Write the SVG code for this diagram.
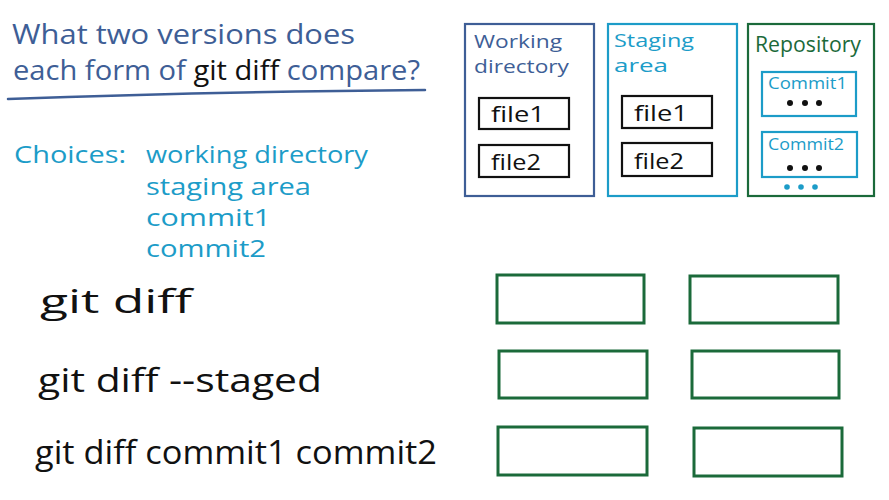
<svg xmlns="http://www.w3.org/2000/svg" width="889" height="500" viewBox="0 0 889 500">
<style>
text{font-family:"Open Sans","Liberation Sans",sans-serif;}
.slate{fill:#3e5e96;}
.teal{fill:#1c9cc8;}
.green{fill:#1b6a3a;}
.blk{fill:#111;}
.box{fill:none;stroke-width:2.2;}
.ans{fill:none;stroke:#1b6a3a;stroke-width:3;}
.dot{fill:#111;}
.tdot{fill:#1c9cc8;}
</style>
<rect width="889" height="500" fill="#fff"/>
<g id="title">
<text x="12" y="44" font-size="27" class="slate" textLength="343" lengthAdjust="spacingAndGlyphs">What two versions does</text>
<text x="13" y="80" font-size="27" class="slate" textLength="407" lengthAdjust="spacingAndGlyphs">each form of <tspan class="blk">git diff</tspan> compare?</text>
<path d="M8 99 Q200 92 425 90" fill="none" stroke="#3e5e96" stroke-width="2.5" stroke-linecap="round"/>
</g>
<g id="choices">
<text x="14" y="163" font-size="24" class="teal" textLength="112" lengthAdjust="spacingAndGlyphs">Choices:</text>
<text x="146" y="163" font-size="24" class="teal" textLength="222" lengthAdjust="spacingAndGlyphs">working directory</text>
<text x="146" y="195" font-size="24" class="teal" textLength="165" lengthAdjust="spacingAndGlyphs">staging area</text>
<text x="146" y="226" font-size="24" class="teal" textLength="125" lengthAdjust="spacingAndGlyphs">commit1</text>
<text x="146" y="257" font-size="24" class="teal" textLength="120" lengthAdjust="spacingAndGlyphs">commit2</text>
</g>
<g id="working-directory">
<rect x="465" y="24" width="129" height="172" class="box" stroke="#3e5e96"/>
<text x="474" y="48" font-size="19" class="slate" textLength="88" lengthAdjust="spacingAndGlyphs">Working</text>
<text x="474" y="73" font-size="19" class="slate" textLength="95" lengthAdjust="spacingAndGlyphs">directory</text>
<g id="wd-file1"><rect x="479" y="98" width="90" height="31" class="box" stroke="#111"/><text x="491" y="122" font-size="22" class="blk" textLength="54" lengthAdjust="spacingAndGlyphs">file1</text></g>
<g id="wd-file2"><rect x="479" y="145" width="90" height="32" class="box" stroke="#111"/><text x="491" y="170" font-size="22" class="blk" textLength="50" lengthAdjust="spacingAndGlyphs">file2</text></g>
</g>
<g id="staging-area">
<rect x="608" y="24" width="129" height="172" class="box" stroke="#1c9cc8"/>
<text x="614" y="47" font-size="19" class="teal" textLength="80" lengthAdjust="spacingAndGlyphs">Staging</text>
<text x="614" y="72" font-size="19" class="teal" textLength="54" lengthAdjust="spacingAndGlyphs">area</text>
<g id="sa-file1"><rect x="622" y="96" width="90" height="32" class="box" stroke="#111"/><text x="634" y="121" font-size="22" class="blk" textLength="54" lengthAdjust="spacingAndGlyphs">file1</text></g>
<g id="sa-file2"><rect x="622" y="143" width="90" height="33" class="box" stroke="#111"/><text x="634" y="169" font-size="22" class="blk" textLength="50" lengthAdjust="spacingAndGlyphs">file2</text></g>
</g>
<g id="repository">
<rect x="748" y="24" width="126" height="172" class="box" stroke="#1b6a3a"/>
<text x="755" y="52" font-size="21" class="green" textLength="106" lengthAdjust="spacingAndGlyphs">Repository</text>
<g id="commit1"><rect x="762" y="72" width="94" height="44" class="box" stroke="#1c9cc8"/><text x="768" y="89" font-size="17" class="teal" textLength="79" lengthAdjust="spacingAndGlyphs">Commit1</text>
<circle cx="790" cy="103" r="3" class="dot"/><circle cx="805" cy="103" r="3" class="dot"/><circle cx="819" cy="103" r="3" class="dot"/></g>
<g id="commit2"><rect x="762" y="132" width="95" height="45" class="box" stroke="#1c9cc8"/><text x="768" y="150" font-size="17" class="teal" textLength="76" lengthAdjust="spacingAndGlyphs">Commit2</text>
<circle cx="790" cy="168" r="3" class="dot"/><circle cx="805" cy="168" r="3" class="dot"/><circle cx="819" cy="168" r="3" class="dot"/></g>
<circle cx="787" cy="187" r="2.8" class="tdot"/><circle cx="801" cy="187" r="2.8" class="tdot"/><circle cx="815" cy="187" r="2.8" class="tdot"/>
</g>
<g id="commands">
<text x="40" y="313" font-size="32" class="blk" textLength="152" lengthAdjust="spacingAndGlyphs">git diff</text>
<text x="38" y="392" font-size="32" class="blk" textLength="284" lengthAdjust="spacingAndGlyphs">git diff --staged</text>
<text x="35" y="464" font-size="32" class="blk" textLength="402" lengthAdjust="spacingAndGlyphs">git diff commit1 commit2</text>
</g>
<g id="answers">
<rect x="497" y="275" width="147" height="48" class="ans"/>
<rect x="690" y="276" width="148" height="47" class="ans"/>
<rect x="499" y="351" width="148" height="47" class="ans"/>
<rect x="692" y="351" width="147" height="47" class="ans"/>
<rect x="498" y="427" width="149" height="48" class="ans"/>
<rect x="694" y="428" width="148" height="48" class="ans"/>
</g>
</svg>
